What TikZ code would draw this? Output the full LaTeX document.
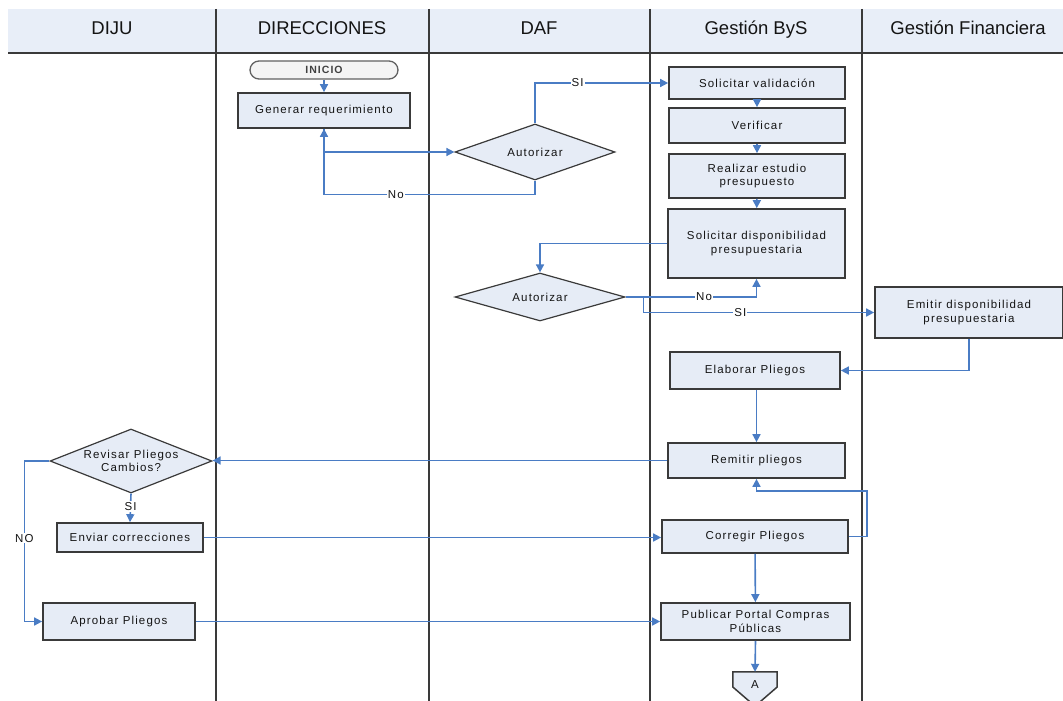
\documentclass[tikz,border=0pt]{standalone}
\usepackage{fontspec}
\setmainfont{Liberation Sans}
\newfontfamily\lblfont[LetterSpace=10]{Liberation Sans}
\usetikzlibrary{shapes.geometric,arrows.meta,calc}
\definecolor{boxfill}{HTML}{E6ECF6}
\definecolor{hdrfill}{HTML}{E8EEF8}
\definecolor{edge}{HTML}{3A3A3A}
\definecolor{flow}{HTML}{4A7CC4}
\definecolor{termfill}{HTML}{F4F4F4}
\pgfdeclarelayer{background}
\pgfsetlayers{background,main}

\begin{document}
\begin{tikzpicture}[x=1pt,y=-1pt,
  txt/.style={font=\lblfont\fontsize{11.5}{13.5}\selectfont, text=black!92},
  proc/.style={draw=edge, line width=1.7pt, fill=boxfill, inner sep=0pt, align=center, txt},
  dec/.style={diamond, draw=edge, line width=1.2pt, fill=boxfill, inner sep=0pt},
  term/.style={draw=edge!80, line width=1.3pt, fill=termfill, rounded corners=9pt, inner sep=0pt,
    font=\lblfont\fontsize{10.5}{12}\bfseries\selectfont, text=black!75},
  flowline/.style={draw=flow, line width=1.6pt},
  arr/.style={flowline, -{Triangle[length=8pt,width=8pt]}},
  tag/.style={fill=white, inner sep=1pt, txt},
  lane/.style={draw=edge, line width=1.4pt},
  hdr/.style={font=\fontsize{18.5}{20}\selectfont, text=black!92, text height=13.5pt, text depth=4pt, inner sep=0pt}
]
\useasboundingbox (0,0) rectangle (1063,701);

% ---- swimlane header and lane separators
\fill[hdrfill] (8,9) rectangle (1063,53);
\foreach \x in {216,429,650,862} \draw[lane] (\x,9) -- (\x,701);
\draw[edge, line width=2pt] (8,53) -- (1063,53);
\node[hdr] (hdiju) at (112,30) {DIJU};
\node[hdr] (hdir) at (322,30) {DIRECCIONES};
\node[hdr] (hdaf) at (539,30) {DAF};
\node[hdr] (hbys) at (756,30) {Gestión ByS};
\node[hdr] (hfin) at (968,30) {Gestión Financiera};

% ---- DIRECCIONES
\node[term, minimum width=148pt, minimum height=18pt] (inicio) at (324,70) {INICIO};
\node[proc, minimum width=172pt, minimum height=35pt] (gen) at (324,110.5) {Generar requerimiento};

% ---- DAF
\node[dec, minimum width=160pt, minimum height=56pt, aspect=2.86,
  label={[txt]center:Autorizar}] (aut1) at (535,152) {};
\node[dec, minimum width=170pt, minimum height=48pt, aspect=3.5,
  label={[txt]center:Autorizar}] (aut2) at (540,297) {};

% ---- Gestión ByS
\node[proc, minimum width=176pt, minimum height=32pt] (solval) at (757,83) {Solicitar validación};
\node[proc, minimum width=176pt, minimum height=35pt] (verif) at (757,125.5) {Verificar};
\node[proc, minimum width=176pt, minimum height=44pt] (realiz) at (757,176) {Realizar estudio\\presupuesto};
\node[proc, minimum width=177pt, minimum height=69pt] (soldisp) at (756.5,243.5) {Solicitar disponibilidad\\presupuestaria};
\node[proc, minimum width=170pt, minimum height=37pt] (elab) at (755,370.5) {Elaborar Pliegos};
\node[proc, minimum width=177pt, minimum height=35pt] (remit) at (756.5,460.5) {Remitir pliegos};
\node[proc, minimum width=186pt, minimum height=33pt] (correg) at (755,536.5) {Corregir Pliegos};
\node[proc, minimum width=189pt, minimum height=37pt] (publ) at (755.5,621.5) {Publicar Portal Compras\\Públicas};
\node[txt, minimum width=44pt, minimum height=30pt, inner sep=0pt] (A) at (755,687) {\raisebox{5pt}{A}};
\begin{pgfonlayer}{background}
  \filldraw[draw=edge, line width=1.5pt, fill=boxfill]
    (A.north west) -- (A.north east) -- (A.east) -- ($(A.south)+(0,4)$) -- (A.west) -- cycle;
\end{pgfonlayer}

% ---- Gestión Financiera
\node[proc, minimum width=188pt, minimum height=51pt] (emitir) at (969,312.5) {Emitir disponibilidad\\presupuestaria};

% ---- DIJU
\node[dec, minimum width=162pt, minimum height=64pt, aspect=2.53,
  label={[txt, align=center]center:{Revisar Pliegos\\Cambios?}}] (revisar) at (131,461) {};
\node[proc, minimum width=146pt, minimum height=29pt] (enviar) at (130,537.5) {Enviar correcciones};
\node[proc, minimum width=152pt, minimum height=37pt] (aprobar) at (119,621.5) {Aprobar Pliegos};

% ---- connectors
\draw[arr] (inicio) -- (gen);
\draw[arr] (gen.south) |- (aut1.west);
\draw[arr] (aut1.south) -- ++(0,14) -| node[tag, pos=0.33] {No} (gen.south);
\draw[arr] (aut1.north) |- node[tag, pos=0.66] {SI} (solval.west);
\draw[arr] (solval) -- (verif);
\draw[arr] (verif) -- (realiz);
\draw[arr] (realiz) -- (soldisp);
\draw[arr] (soldisp.west) -| (aut2.north);
\draw[arr] (aut2.east) -| node[tag, pos=0.3] {No} (soldisp.south);
\draw[arr] (aut2.east) -- ++(18,0) |- node[tag, pos=0.71] {SI} (emitir.west);
\draw[arr] (emitir.south) |- (elab.east);
\draw[arr] (remit.north |- elab.south) -- (remit.north);
\draw[arr] (remit.west) -- (remit.west -| revisar.east);
\draw[arr] (revisar.south) -- node[tag, pos=0.45] {SI} (enviar.north);
\draw[arr] (revisar.west) -- ++(-25,0) |- node[tag, pos=0.24] {NO} (aprobar.west);
\draw[arr] (enviar.east) -- (enviar.east -| correg.west);
\draw[arr] (correg.east) -- ++(18,0) |- ($(remit.south)+(0,12)$) -- (remit.south);
\draw[arr] (correg) -- (publ);
\draw[arr] (aprobar.east) -- (aprobar.east -| publ.west);
\draw[arr] (publ.south) -- (A.north);
\end{tikzpicture}
\end{document}
